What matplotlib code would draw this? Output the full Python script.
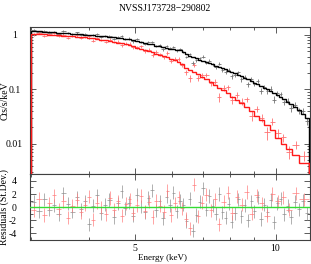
import numpy as np
import matplotlib
matplotlib.use("Agg")
import matplotlib.pyplot as plt
from matplotlib.ticker import FixedLocator, NullFormatter, MultipleLocator

plt.rcParams['font.family'] = ['Liberation Serif', 'DejaVu Serif']
plt.rcParams['axes.unicode_minus'] = False

# ── Data ──────────────────────────────────────────────
title = "NVSSJ173728\u2212290802"

# black spectrum: bin edges (keV), model (cts/s/keV), residuals (sigma), rel. errors
blk_edges = [3.00, 3.08, 3.16, 3.24, 3.32, 3.40, 3.48, 3.56, 3.64, 3.72,
             3.80, 3.88, 3.96, 4.04, 4.12, 4.20, 4.28, 4.37, 4.46, 4.55,
             4.64, 4.73, 4.82, 4.91, 5.00, 5.10, 5.20, 5.30, 5.40, 5.50,
             5.60, 5.70, 5.80, 5.90, 6.00, 6.10, 6.20, 6.30, 6.40, 6.50,
             6.61, 6.72, 6.83, 6.94, 7.05, 7.16, 7.28, 7.40, 7.52, 7.64,
             7.76, 7.88, 8.00, 8.13, 8.26, 8.39, 8.52, 8.66, 8.80, 8.94,
             9.08, 9.23, 9.38, 9.53, 9.68, 9.84, 10.00, 10.17, 10.34, 10.52,
             10.70, 10.90, 11.10, 11.32, 11.55, 11.80]
blk_model = [1.17, 1.16, 1.145, 1.13, 1.115, 1.10, 1.085, 1.07, 1.055, 1.04,
             1.03, 1.015, 1.00, 0.985, 0.97, 0.955, 0.94, 0.92, 0.90, 0.885,
             0.865, 0.85, 0.83, 0.815, 0.77, 0.745, 0.72, 0.695, 0.67, 0.64,
             0.615, 0.595, 0.578, 0.562, 0.548, 0.535, 0.522, 0.48, 0.44, 0.415,
             0.392, 0.372, 0.353, 0.336, 0.32, 0.304, 0.288, 0.273, 0.259, 0.246,
             0.234, 0.222, 0.21, 0.198, 0.186, 0.175, 0.164, 0.153, 0.143, 0.134,
             0.125, 0.116, 0.108, 0.100, 0.093, 0.086, 0.079, 0.072, 0.066, 0.060,
             0.054, 0.048, 0.042, 0.036, 0.030]
blk_resid = [0.8, -0.6, 1.2, -0.4, 0.3, -1.1, 2.1, 0.5, -0.7, 1.5,
             -0.3, 0.9, -2.6, 0.2, 1.8, -0.9, 0.4, 1.1, -1.5, 0.6,
             2.4, -0.2, 0.7, -1.3, 1.9, 0.1, -0.8, 1.4, 2.6, -0.5,
             0.9, -1.7, 1.6, 0.3, 2.2, -0.6, 1.0, 0.4, -2.1, 1.3,
             -3.6, -1.2, 0.8, 2.9, -0.4, 1.7, 0.2, -1.0, 2.0, -0.8,
             -1.6, 0.5, -2.2, -0.9, 1.2, -1.4, 0.3, -2.0, 0.9, -0.6,
             1.5, -1.8, 0.4, -0.7, 1.1, -2.3, 0.6, 1.3, -1.1, 0.2,
             -1.5, 0.8, -0.3, 1.0, -0.9]
blk_relerr = [0.045] * 20 + [0.05] * 20 + \
             [0.06, 0.06, 0.06, 0.065, 0.065, 0.065, 0.07, 0.07, 0.07, 0.075,
              0.075, 0.08, 0.08, 0.08, 0.085, 0.085, 0.09, 0.09, 0.09, 0.095,
              0.095, 0.10, 0.10, 0.10, 0.105, 0.105, 0.11, 0.11, 0.11, 0.115,
              0.115, 0.12, 0.12, 0.125, 0.13]

# red spectrum
red_edges = [3.00, 3.08, 3.16, 3.24, 3.32, 3.40, 3.48, 3.56, 3.64, 3.72,
             3.80, 3.88, 3.96, 4.04, 4.12, 4.20, 4.29, 4.38, 4.47, 4.56,
             4.65, 4.74, 4.83, 4.92, 5.01, 5.11, 5.21, 5.31, 5.41, 5.51,
             5.61, 5.71, 5.82, 5.93, 6.04, 6.15, 6.26, 6.38, 6.50, 6.63,
             6.76, 6.90, 7.04, 7.19, 7.34, 7.50, 7.66, 7.83, 8.00, 8.18,
             8.37, 8.57, 8.78, 9.00, 9.23, 9.47, 9.72, 9.98, 10.25, 10.55,
             10.87, 11.25, 11.80]
red_model = [1.05, 1.04, 1.03, 1.015, 1.0, 0.99, 0.975, 0.96, 0.945, 0.93,
             0.915, 0.90, 0.885, 0.87, 0.85, 0.815, 0.795, 0.77, 0.75, 0.725,
             0.70, 0.675, 0.65, 0.625, 0.585, 0.555, 0.53, 0.505, 0.48, 0.455,
             0.435, 0.41, 0.39, 0.365, 0.345, 0.325, 0.29, 0.25, 0.23, 0.21,
             0.19, 0.17, 0.153, 0.137, 0.122, 0.108, 0.096, 0.085, 0.074, 0.065,
             0.056, 0.048, 0.040, 0.033, 0.027, 0.022, 0.018, 0.013, 0.0098, 0.0080,
             0.0062, 0.0045]
red_resid = [-0.5, 1.3, -1.2, 0.6, 1.8, -0.3, 0.9, -1.6, 0.2, 1.1,
             -0.8, 0.4, 1.6, -1.9, 0.7, 0.0, -1.1, 1.4, -0.4, 0.9,
             -1.3, 0.5, 1.2, -0.9, 0.3, 1.7, -0.6, 0.8, -1.5, 1.0,
             0.2, -0.7, 2.5, -1.2, 0.6, 1.5, -0.2, -1.8, -3.2, 3.4,
             -1.4, 0.7, 1.9, -0.5, 1.2, -2.6, 0.8, 2.2, -0.9, 1.6,
             0.4, 2.3, -1.0, 1.8, 0.6, -1.3, 2.0, 0.9, 1.5, -0.4,
             2.1, 1.2]
red_relerr = [0.05] * 20 + \
             [0.055, 0.055, 0.06, 0.06, 0.06, 0.065, 0.065, 0.07, 0.07, 0.07,
              0.075, 0.075, 0.08, 0.08, 0.085, 0.085, 0.09, 0.09, 0.095, 0.10,
              0.10, 0.105, 0.11, 0.115, 0.12, 0.125, 0.13, 0.135, 0.14, 0.15,
              0.155, 0.16, 0.17, 0.18, 0.19, 0.20, 0.21, 0.22, 0.23, 0.25,
              0.27, 0.30]


def spectrum(edges, model, resid, relerr):
    edges = np.array(edges)
    model = np.array(model)
    resid = np.array(resid)
    err = model * np.array(relerr)
    centre = 0.5 * (edges[1:] + edges[:-1])
    half = 0.5 * (edges[1:] - edges[:-1])
    data = model + resid * err
    return edges, model, resid, err, centre, half, data


bE, bM, bR, bErr, bX, bH, bD = spectrum(blk_edges, blk_model, blk_resid, blk_relerr)
rE, rM, rR, rErr, rX, rH, rD = spectrum(red_edges, red_model, red_resid, red_relerr)

# ── Plot ──────────────────────────────────────────────
fig = plt.figure(figsize=(3.11, 2.64), dpi=100)
ax1 = fig.add_axes([0.0974, 0.3409, 0.8994, 0.5568])
ax2 = fig.add_axes([0.0974, 0.0909, 0.8994, 0.2500], sharex=ax1)

# top panel: data crosses + step model
ax1.errorbar(bX, bD, xerr=bH, yerr=bErr, fmt='none', ecolor='0.45',
             elinewidth=0.6, zorder=2)
ax1.errorbar(rX, rD, xerr=rH, yerr=rErr, fmt='none', ecolor='#ff7070',
             elinewidth=0.6, zorder=2)
ax1.stairs(bM, bE, color='black', lw=1.0, zorder=3)
ax1.stairs(rM, rE, color='#ff1a1a', lw=1.0, zorder=3)
ax1.plot([rE[-1], rE[-1]], [rM[-1], 1e-4], color='#ff1a1a', lw=1.0, zorder=3)

ax1.set_xscale('log')
ax1.set_yscale('log')
ax1.set_xlim(2.99, 11.85)
ax1.set_ylim(0.0028, 1.40)
ax1.set_ylabel('Cts/s/keV', fontsize=7)
ax1.yaxis.set_label_coords(-0.075, 0.5)
plt.setp(ax1.get_xticklabels(), visible=False)

# bottom panel: residuals
ax2.errorbar(bX, bR, xerr=bH, yerr=1.0, fmt='none', ecolor='0.55',
             elinewidth=0.6, alpha=0.8, zorder=2)
ax2.errorbar(rX, rR, xerr=rH, yerr=1.0, fmt='none', ecolor='#ff7a7a',
             elinewidth=0.6, alpha=0.8, zorder=2)
ax2.axhline(0, color='#33dd33', lw=1.0, zorder=4)
ax2.set_ylim(-5, 5.05)
ax2.yaxis.set_major_locator(FixedLocator([-4, -2, 0, 2, 4]))
ax2.yaxis.set_minor_locator(MultipleLocator(1))
ax2.set_ylabel('Residuals (St.Dev.)', fontsize=7)
ax2.yaxis.set_label_coords(-0.075, 0.5)
ax2.set_xlabel('Energy (keV)', fontsize=6.5)
ax2.xaxis.set_label_coords(0.471, -0.21)

ax2.xaxis.set_major_locator(FixedLocator([5, 10]))
ax2.xaxis.set_minor_locator(FixedLocator([3, 4, 6, 7, 8, 9]))
ax2.xaxis.set_major_formatter(plt.FuncFormatter(lambda v, p: f"{v:g}"))
ax2.xaxis.set_minor_formatter(NullFormatter())

for ax in (ax1, ax2):
    for s in ax.spines.values():
        s.set_color('0.25')
        s.set_linewidth(0.8)
    ax.tick_params(which='both', direction='in', top=True, right=True,
                   color='0.25', width=0.6, labelsize=7)
    ax.tick_params(which='major', length=4)
    ax.tick_params(which='minor', length=2)

ax1.tick_params(axis='y', which='major', pad=11.5)
for lab in ax1.get_yticklabels():
    lab.set_horizontalalignment('center')
ax1.yaxis.set_major_formatter(plt.FuncFormatter(lambda v, p: f"{v:g}"))
ax1.yaxis.set_minor_formatter(NullFormatter())
ax2.tick_params(axis='y', pad=10)
ax2.tick_params(axis='x', pad=3)

fig.text(165 / 311, 1 - 8.5 / 264, title, ha='center', va='center', fontsize=7)

plt.savefig('out.png', dpi=100)
plt.close()
